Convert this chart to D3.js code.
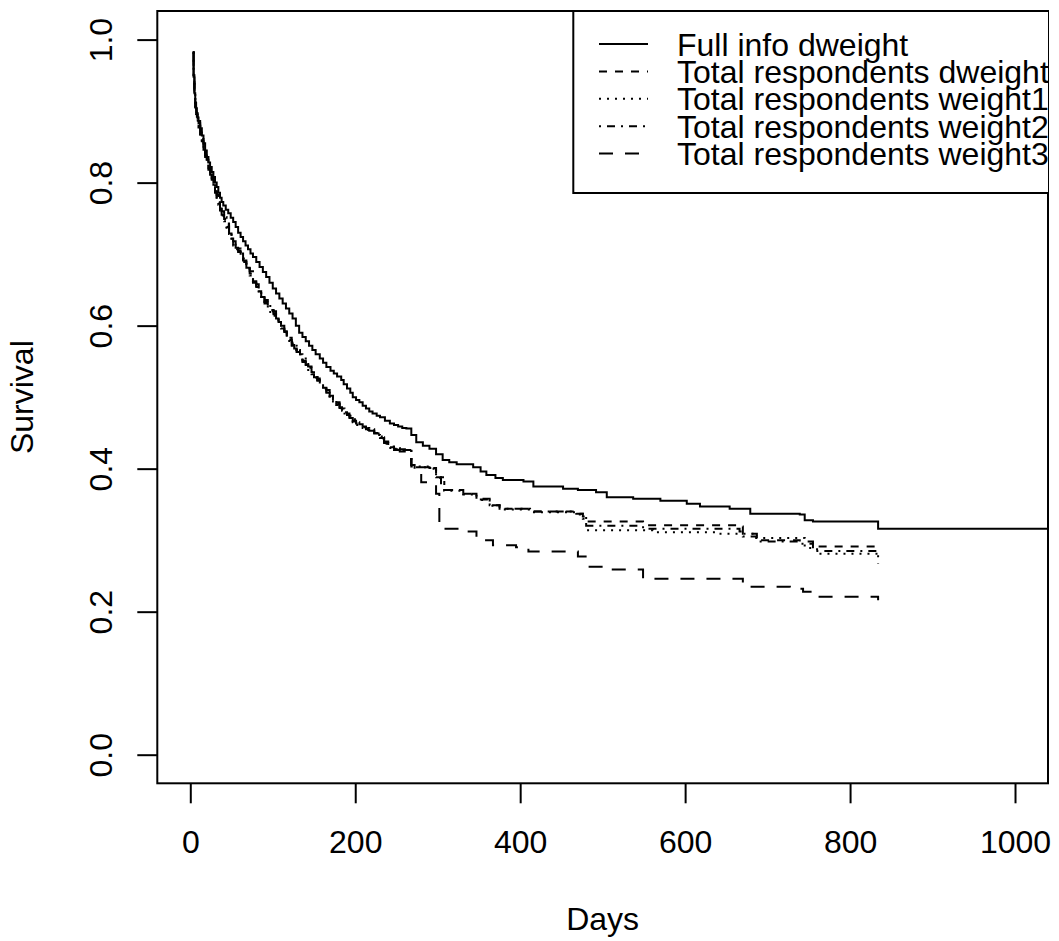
<!DOCTYPE html>
<html>
<head>
<meta charset="utf-8">
<script src="https://cdn.jsdelivr.net/npm/d3@7"></script>
<style>
  body { margin: 0; background: #fff; }
  svg { display: block; font-family: "Liberation Sans", Arial, Helvetica, sans-serif; }
</style>
</head>
<body>
<div id="chart"></div>
<script>
// Kaplan-Meier step curves: [day, survival]
const fullInfoDweight = [
  [3, 0.982], [4, 0.95], [5, 0.925], [6, 0.912], [7, 0.904], [8, 0.897], [9, 0.891], [10, 0.886],
  [12, 0.876], [14, 0.866], [16, 0.855], [18, 0.845], [20, 0.836], [22, 0.828], [24, 0.822], [26, 0.815],
  [28, 0.808], [30, 0.8], [32, 0.794], [34, 0.786], [36, 0.779], [38, 0.773], [40, 0.768], [43, 0.762],
  [46, 0.757], [49, 0.751], [52, 0.745], [55, 0.738], [58, 0.73], [61, 0.724], [64, 0.718], [67, 0.712],
  [70, 0.707], [73, 0.701], [76, 0.696], [80, 0.689], [84, 0.682], [88, 0.675], [92, 0.668], [96, 0.66],
  [100, 0.652], [104, 0.645], [108, 0.638], [112, 0.631], [116, 0.624], [120, 0.617], [124, 0.61],
  [128, 0.6], [132, 0.59], [136, 0.584], [140, 0.578], [144, 0.572], [148, 0.566], [152, 0.56],
  [157, 0.554], [161, 0.548], [165, 0.542], [170, 0.537], [174, 0.533], [178, 0.529], [183, 0.524],
  [186, 0.518], [190, 0.512], [194, 0.506], [197, 0.5], [201, 0.496], [205, 0.493], [209, 0.488],
  [213, 0.484], [217, 0.48], [221, 0.477], [226, 0.474], [230, 0.472], [236, 0.467], [242, 0.463],
  [247, 0.461], [252, 0.459], [257, 0.457], [262, 0.456], [268, 0.447], [274, 0.437], [282, 0.432],
  [290, 0.428], [298, 0.42], [306, 0.412], [314, 0.409], [323, 0.406], [343, 0.402], [352, 0.396],
  [359, 0.391], [370, 0.387], [379, 0.384], [404, 0.382], [416, 0.375], [452, 0.372], [470, 0.37],
  [492, 0.367], [505, 0.36], [537, 0.358], [570, 0.355], [602, 0.351], [618, 0.347], [654, 0.344],
  [679, 0.337], [739, 0.336], [745, 0.328], [755, 0.326], [834, 0.316], [1060, 0.316]
];

const totalDweight = [
  [3, 0.982], [4, 0.948], [5, 0.922], [6, 0.908], [7, 0.899], [8, 0.892], [9, 0.886], [10, 0.88],
  [12, 0.869], [14, 0.858], [16, 0.847], [18, 0.838], [20, 0.829], [22, 0.82], [24, 0.812], [26, 0.804],
  [28, 0.796], [30, 0.788], [32, 0.78], [34, 0.772], [36, 0.764], [38, 0.757], [41, 0.749], [44, 0.74],
  [47, 0.731], [50, 0.722], [52, 0.715], [55, 0.71], [58, 0.705], [61, 0.698], [64, 0.691], [68, 0.683],
  [72, 0.673], [76, 0.662], [80, 0.655], [83, 0.648], [86, 0.641], [90, 0.633], [94, 0.627], [97, 0.622],
  [101, 0.617], [104, 0.612], [107, 0.605], [110, 0.598], [114, 0.592], [117, 0.586], [120, 0.58],
  [123, 0.575], [126, 0.569], [129, 0.563], [133, 0.557], [136, 0.551], [140, 0.546], [143, 0.541],
  [147, 0.535], [150, 0.53], [154, 0.524], [157, 0.519], [161, 0.513], [165, 0.508], [169, 0.502],
  [173, 0.497], [177, 0.491], [181, 0.486], [184, 0.482], [187, 0.479], [190, 0.475], [193, 0.472],
  [197, 0.467], [201, 0.463], [205, 0.461], [209, 0.459], [213, 0.456], [217, 0.454], [223, 0.449],
  [230, 0.444], [235, 0.437], [240, 0.43], [247, 0.428], [254, 0.426], [268, 0.402], [290, 0.401],
  [298, 0.388], [304, 0.378], [308, 0.37], [331, 0.365], [347, 0.358], [363, 0.349], [375, 0.344],
  [412, 0.34], [468, 0.337], [476, 0.333], [480, 0.326], [549, 0.321], [666, 0.319], [670, 0.309],
  [687, 0.3], [739, 0.298], [755, 0.291], [834, 0.291]
];

const totalWeight1 = [
  [3, 0.982], [4, 0.946], [5, 0.919], [6, 0.905], [7, 0.896], [8, 0.889], [9, 0.883], [10, 0.877],
  [12, 0.866], [14, 0.855], [16, 0.844], [18, 0.835], [20, 0.826], [22, 0.817], [24, 0.809], [26, 0.801],
  [28, 0.793], [30, 0.785], [32, 0.777], [34, 0.769], [36, 0.761], [38, 0.754], [41, 0.746], [44, 0.737],
  [47, 0.728], [50, 0.719], [52, 0.712], [55, 0.707], [58, 0.702], [61, 0.695], [64, 0.688], [68, 0.68],
  [72, 0.67], [76, 0.659], [80, 0.652], [83, 0.645], [86, 0.638], [90, 0.63], [94, 0.624], [97, 0.619],
  [101, 0.614], [104, 0.609], [107, 0.602], [110, 0.595], [114, 0.589], [117, 0.583], [120, 0.577],
  [123, 0.572], [126, 0.566], [129, 0.56], [133, 0.554], [136, 0.548], [140, 0.543], [143, 0.538],
  [147, 0.532], [150, 0.527], [154, 0.521], [157, 0.516], [161, 0.51], [165, 0.505], [169, 0.499],
  [173, 0.494], [177, 0.489], [181, 0.484], [184, 0.48], [187, 0.477], [190, 0.473], [193, 0.47],
  [197, 0.465], [201, 0.461], [205, 0.459], [209, 0.457], [213, 0.454], [217, 0.452], [223, 0.447],
  [230, 0.442], [235, 0.435], [240, 0.429], [247, 0.427], [254, 0.425], [268, 0.403], [290, 0.4],
  [298, 0.387], [308, 0.369], [331, 0.364], [347, 0.356], [363, 0.348], [375, 0.343], [412, 0.339],
  [468, 0.336], [476, 0.33], [480, 0.314], [561, 0.311], [640, 0.309], [683, 0.303], [745, 0.289],
  [760, 0.281], [834, 0.281]
];

const totalWeight2 = [
  [3, 0.982], [4, 0.95], [5, 0.925], [6, 0.911], [7, 0.902], [8, 0.895], [9, 0.889], [10, 0.883],
  [12, 0.872], [14, 0.861], [16, 0.85], [18, 0.841], [20, 0.832], [22, 0.823], [24, 0.815], [26, 0.807],
  [28, 0.799], [30, 0.791], [32, 0.783], [34, 0.775], [36, 0.767], [38, 0.76], [41, 0.752], [44, 0.743],
  [47, 0.734], [50, 0.725], [52, 0.718], [55, 0.713], [58, 0.708], [61, 0.701], [64, 0.694], [68, 0.686],
  [72, 0.676], [76, 0.665], [80, 0.658], [83, 0.651], [86, 0.644], [90, 0.636], [94, 0.63], [97, 0.625],
  [101, 0.62], [104, 0.614], [107, 0.607], [110, 0.6], [114, 0.595], [117, 0.589], [120, 0.583],
  [123, 0.577], [126, 0.572], [129, 0.566], [133, 0.56], [136, 0.554], [140, 0.548], [143, 0.543],
  [147, 0.537], [150, 0.532], [154, 0.526], [157, 0.521], [161, 0.515], [165, 0.51], [169, 0.504],
  [173, 0.499], [177, 0.493], [181, 0.488], [184, 0.484], [187, 0.481], [190, 0.477], [193, 0.474],
  [197, 0.469], [201, 0.465], [205, 0.462], [209, 0.46], [213, 0.457], [217, 0.455], [223, 0.45],
  [230, 0.445], [235, 0.438], [240, 0.431], [247, 0.429], [254, 0.427], [268, 0.402], [290, 0.401],
  [298, 0.388], [308, 0.37], [331, 0.365], [347, 0.357], [363, 0.349], [375, 0.344], [412, 0.34],
  [468, 0.337], [476, 0.333], [480, 0.32], [549, 0.316], [666, 0.312], [670, 0.305], [687, 0.298],
  [739, 0.295], [755, 0.285], [834, 0.267]
];

const totalWeight3 = [
  [3, 0.982], [4, 0.947], [5, 0.921], [6, 0.906], [7, 0.898], [8, 0.891], [9, 0.884], [10, 0.879],
  [12, 0.867], [14, 0.857], [16, 0.846], [18, 0.836], [20, 0.828], [22, 0.818], [24, 0.811], [26, 0.802],
  [28, 0.795], [30, 0.786], [32, 0.779], [34, 0.77], [36, 0.763], [38, 0.755], [41, 0.748], [44, 0.738],
  [47, 0.729], [50, 0.721], [52, 0.713], [55, 0.709], [58, 0.703], [61, 0.697], [64, 0.689], [68, 0.681],
  [72, 0.672], [76, 0.66], [80, 0.654], [83, 0.646], [86, 0.64], [90, 0.631], [94, 0.626], [97, 0.62],
  [101, 0.616], [104, 0.61], [107, 0.604], [110, 0.596], [114, 0.591], [117, 0.584], [120, 0.579],
  [123, 0.573], [126, 0.568], [129, 0.561], [133, 0.556], [136, 0.549], [140, 0.545], [143, 0.539],
  [147, 0.534], [150, 0.528], [154, 0.523], [157, 0.517], [161, 0.512], [165, 0.506], [169, 0.501],
  [173, 0.495], [177, 0.49], [181, 0.485], [184, 0.481], [187, 0.478], [190, 0.474], [193, 0.471],
  [197, 0.466], [201, 0.462], [205, 0.46], [209, 0.458], [213, 0.455], [217, 0.453], [223, 0.448],
  [230, 0.443], [235, 0.436], [240, 0.429], [247, 0.426], [254, 0.424], [268, 0.405], [272, 0.398],
  [280, 0.381], [294, 0.377], [298, 0.365], [302, 0.321], [308, 0.316], [335, 0.312], [347, 0.3],
  [367, 0.293], [395, 0.29], [410, 0.284], [470, 0.277], [482, 0.263], [500, 0.259], [549, 0.246],
  [670, 0.235], [727, 0.232], [743, 0.228], [755, 0.221], [834, 0.216]
];

const seriesNames = [
  "Full info dweight",
  "Total respondents dweight",
  "Total respondents weight1",
  "Total respondents weight2",
  "Total respondents weight3"
];
const seriesData = [fullInfoDweight, totalDweight, totalWeight1, totalWeight2, totalWeight3];
const xTicks = [0, 200, 400, 600, 800, 1000];
const yTicks = [0, 0.2, 0.4, 0.6, 0.8, 1.0];

const W = 1059, H = 941;
const plot = { left: 157.3, right: 1048, top: 11, bottom: 783.3 };
const dashes = [null, "8,8", "2,6", "2,6,8,6", "14,12"];

const svg = d3.select("#chart").append("svg")
  .attr("width", W)
  .attr("height", H);

const x = d3.scaleLinear().domain([-40, 1040]).range([plot.left, plot.right]);
const y = d3.scaleLinear().domain([-0.04, 1.04]).range([plot.bottom, plot.top]);

svg.append("defs").append("clipPath")
  .attr("id", "plotclip")
  .append("rect")
  .attr("x", plot.left)
  .attr("y", plot.top)
  .attr("width", plot.right - plot.left)
  .attr("height", plot.bottom - plot.top);

// curves
const line = d3.line()
  .x((d) => x(d[0]))
  .y((d) => y(d[1]))
  .curve(d3.curveStepAfter);

const curves = svg.append("g").attr("clip-path", "url(#plotclip)");
seriesData.forEach((data, i) => {
  curves.append("path")
    .datum(data)
    .attr("d", line)
    .attr("fill", "none")
    .attr("stroke", "#000")
    .attr("stroke-width", 2)
    .attr("stroke-dasharray", dashes[i]);
});

// axes
const xAxis = svg.append("g")
  .attr("transform", `translate(0,${plot.bottom})`)
  .call(d3.axisBottom(x).tickValues(xTicks).tickSize(20).tickSizeOuter(0).tickFormat(d3.format("d")));
xAxis.select(".domain").remove();
xAxis.selectAll("line").attr("stroke-width", 2);
xAxis.selectAll("text")
  .attr("y", 70)
  .attr("dy", 0)
  .attr("font-size", 32)
  .attr("font-family", "Liberation Sans, Arial, sans-serif")
  .attr("fill", "#000");

const yAxis = svg.append("g")
  .attr("transform", `translate(${plot.left},0)`)
  .call(d3.axisLeft(y).tickValues(yTicks).tickSize(20).tickSizeOuter(0).tickFormat(d3.format(".1f")));
yAxis.select(".domain").remove();
yAxis.selectAll("line").attr("stroke-width", 2);
yAxis.selectAll("text")
  .attr("transform", "rotate(-90)")
  .attr("x", 0)
  .attr("y", -45)
  .attr("dy", 0)
  .attr("text-anchor", "middle")
  .attr("font-size", 32)
  .attr("font-family", "Liberation Sans, Arial, sans-serif")
  .attr("fill", "#000");

// plot box
svg.append("rect")
  .attr("x", plot.left)
  .attr("y", plot.top)
  .attr("width", plot.right - plot.left)
  .attr("height", plot.bottom - plot.top)
  .attr("fill", "none")
  .attr("stroke", "#000")
  .attr("stroke-width", 2);

// axis titles
svg.append("text")
  .attr("x", (plot.left + plot.right) / 2)
  .attr("y", 930)
  .attr("text-anchor", "middle")
  .attr("font-size", 32)
  .text("Days");

svg.append("text")
  .attr("transform", `translate(33,${(plot.top + plot.bottom) / 2}) rotate(-90)`)
  .attr("text-anchor", "middle")
  .attr("font-size", 32)
  .text("Survival");

// legend (clipped by the plot region, like the original)
const legend = svg.append("g").attr("clip-path", "url(#plotclip)");
legend.append("rect")
  .attr("x", 573.3)
  .attr("y", plot.top)
  .attr("width", 520)
  .attr("height", 193 - plot.top)
  .attr("fill", "#fff")
  .attr("stroke", "#000")
  .attr("stroke-width", 2);

seriesNames.forEach((name, i) => {
  const cy = 44 + i * 27.4;
  legend.append("line")
    .attr("x1", 599)
    .attr("x2", 648)
    .attr("y1", cy)
    .attr("y2", cy)
    .attr("stroke", "#000")
    .attr("stroke-width", 2)
    .attr("stroke-dasharray", dashes[i]);
  legend.append("text")
    .attr("x", 677)
    .attr("y", cy + 11.5)
    .attr("font-size", 32)
    .text(name);
});
</script>
</body>
</html>
